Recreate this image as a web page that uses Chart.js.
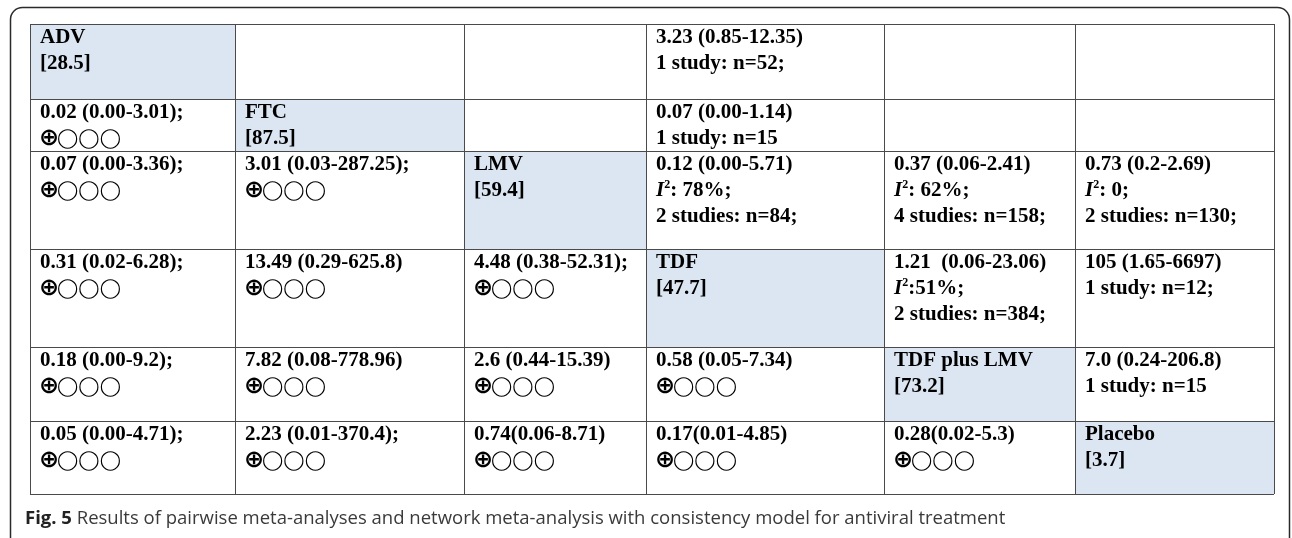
<!DOCTYPE html>
<html>
<head>
<meta charset="utf-8">
<script src="https://cdn.jsdelivr.net/npm/chart.js@4.4.0/dist/chart.umd.min.js"></script>
<style>
  html, body { margin: 0; padding: 0; background: #fff; }
  canvas { display: block; }
</style>
</head>
<body>
<canvas id="myChart" width="1292" height="538"></canvas>
<script>
// treatments on the diagonal, with their ranking score
const treatments = ['ADV', 'FTC', 'LMV', 'TDF', 'TDF plus LMV', 'Placebo'];
const rankScores = ['28.5', '87.5', '59.4', '47.7', '73.2', '3.7'];

// network estimates, lower triangle (row i, columns 0..i-1)
const networkEstimates = [
    [],
    ['0.02 (0.00-3.01);'],
    ['0.07 (0.00-3.36);', '3.01 (0.03-287.25);'],
    ['0.31 (0.02-6.28);', '13.49 (0.29-625.8)', '4.48 (0.38-52.31);'],
    ['0.18 (0.00-9.2);', '7.82 (0.08-778.96)', '2.6 (0.44-15.39)', '0.58 (0.05-7.34)'],
    ['0.05 (0.00-4.71);', '2.23 (0.01-370.4);', '0.74(0.06-8.71)', '0.17(0.01-4.85)', '0.28(0.02-5.3)']
];
const evidenceQuality = '⊕◯◯◯';

// pairwise meta-analyses, upper triangle
const pairRow = [0, 1, 2, 2, 2, 3, 3, 4];
const pairCol = [3, 3, 3, 4, 5, 4, 5, 5];
const pairEstimate = ['3.23 (0.85-12.35)', '0.07 (0.00-1.14)', '0.12 (0.00-5.71)', '0.37 (0.06-2.41)',
    '0.73 (0.2-2.69)', '1.21  (0.06-23.06)', '105 (1.65-6697)', '7.0 (0.24-206.8)'];
const pairI2 = [null, null, ': 78%;', ': 62%;', ': 0;', ':51%;', null, null];
const pairStudies = ['1 study: n=52;', '1 study: n=15', '2 studies: n=84;', '4 studies: n=158;',
    '2 studies: n=130;', '2 studies: n=384;', '1 study: n=12;', '1 study: n=15'];

const captionBold = 'Fig. 5';
const captionText = ' Results of pairwise meta-analyses and network meta-analysis with consistency model for antiviral treatment';

// table geometry in axis units
const colEdges = [0, 205, 434, 616, 854, 1045, 1244];
const rowEdges = [0, 75, 127, 225, 323, 397, 470];

const cellFont = 'bold 21px "Liberation Serif"';
const italicFont = 'italic bold 21px "Liberation Serif"';
const supFont = 'bold 12px "Liberation Serif"';
const plusFont = 'bold 24px "DejaVu Sans"';
const circleFont = '19px "DejaVu Sans"';
const lineGap = 26;

const tablePlugin = {
    id: 'tablePlugin',
    beforeDraw(chart) {
        const ctx = chart.ctx;
        ctx.save();
        ctx.fillStyle = '#fff';
        ctx.fillRect(0, 0, chart.width, chart.height);
        // rounded frame, bottom runs off the page
        ctx.strokeStyle = '#2a2a2a';
        ctx.lineWidth = 1.5;
        ctx.beginPath();
        ctx.roundRect(10.5, 7.5, 1279, 560, 12);
        ctx.stroke();
        ctx.restore();
    },
    afterDraw(chart) {
        const ctx = chart.ctx;
        const xs = chart.scales.x;
        const ys = chart.scales.y;
        const px = (v) => xs.getPixelForValue(v);
        const py = (v) => ys.getPixelForValue(v);
        const n = treatments.length;

        ctx.save();
        // diagonal fills
        ctx.fillStyle = '#dce6f2';
        for (let i = 0; i < n; i++) {
            ctx.fillRect(px(colEdges[i]), py(rowEdges[i]), px(colEdges[i + 1]) - px(colEdges[i]), py(rowEdges[i + 1]) - py(rowEdges[i]));
        }

        // grid
        ctx.strokeStyle = '#4a4a4a';
        ctx.lineWidth = 1;
        ctx.beginPath();
        colEdges.forEach((c) => {
            const x = Math.round(px(c)) + 0.5;
            ctx.moveTo(x, py(rowEdges[0]));
            ctx.lineTo(x, py(rowEdges[n]));
        });
        rowEdges.forEach((r) => {
            const y = Math.round(py(r)) + 0.5;
            ctx.moveTo(px(colEdges[0]), y);
            ctx.lineTo(px(colEdges[n]), y);
        });
        ctx.stroke();

        // text
        ctx.fillStyle = '#000';
        ctx.textBaseline = 'alphabetic';
        ctx.textAlign = 'left';
        const cellX = (c) => px(colEdges[c]) + 10;
        const cellY = (r) => py(rowEdges[r]) + 19;

        const plain = (t, x, y, font) => {
            ctx.font = font || cellFont;
            ctx.fillText(t, x, y);
        };

        const quality = (x, y) => {
            const first = evidenceQuality.slice(0, 1);
            ctx.font = plusFont;
            ctx.fillText(first, x - 1, y + 1);
            const w = ctx.measureText(first).width;
            ctx.font = circleFont;
            ctx.fillText(evidenceQuality.slice(1), x - 1 + w - 2, y);
        };

        for (let i = 0; i < n; i++) {
            plain(treatments[i], cellX(i), cellY(i));
            plain('[' + rankScores[i] + ']', cellX(i), cellY(i) + lineGap);
        }

        networkEstimates.forEach((row, i) => {
            row.forEach((est, j) => {
                plain(est, cellX(j), cellY(i));
                quality(cellX(j), cellY(i) + lineGap);
            });
        });

        pairEstimate.forEach((est, k) => {
            const x = cellX(pairCol[k]);
            let y = cellY(pairRow[k]);
            plain(est, x, y);
            y += lineGap;
            if (pairI2[k] !== null) {
                ctx.font = italicFont;
                ctx.fillText('I', x, y);
                let w = ctx.measureText('I').width;
                ctx.font = supFont;
                ctx.fillText('2', x + w, y - 8);
                w += ctx.measureText('2').width;
                plain(pairI2[k], x + w, y);
                y += lineGap;
            }
            plain(pairStudies[k], x, y);
        });

        // caption
        const capY = py(rowEdges[n]) + 30;
        ctx.font = 'bold 18.5px "Open Sans"';
        ctx.fillStyle = '#222';
        ctx.fillText(captionBold, 25, capY);
        const bw = ctx.measureText(captionBold).width;
        ctx.font = '18.5px "Open Sans"';
        ctx.fillStyle = '#3a3a3a';
        ctx.fillText(captionText, 25 + bw, capY);
        ctx.restore();
    }
};

const ctx = document.getElementById('myChart').getContext('2d');
const myChart = new Chart(ctx, {
    type: 'scatter',
    data: { datasets: [] },
    options: {
        responsive: false,
        animation: false,
        devicePixelRatio: 1,
        layout: { padding: { left: 30, top: 24, right: 18, bottom: 44 } },
        plugins: { legend: { display: false }, tooltip: { enabled: false } },
        scales: {
            x: { type: 'linear', min: colEdges[0], max: colEdges[colEdges.length - 1], display: false },
            y: { type: 'linear', min: rowEdges[0], max: rowEdges[rowEdges.length - 1], reverse: true, display: false }
        }
    },
    plugins: [tablePlugin]
});
</script>
</body>
</html>
